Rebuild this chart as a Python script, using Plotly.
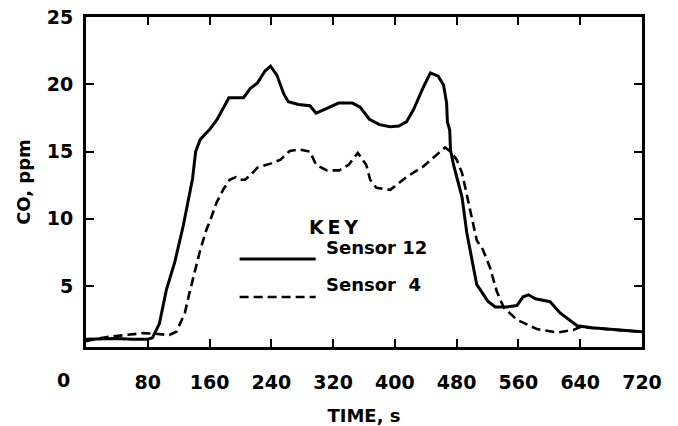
import plotly.graph_objects as go

# CO concentration (ppm) versus time (s) for two sensors
sensor12_t = [0, 20, 40, 60, 80, 86, 95, 104, 115, 126, 132, 138, 142, 148, 161, 170,
              185, 195, 204, 213, 222, 232, 239, 247, 256, 262, 275, 290, 298, 312,
              327, 345, 355, 367, 380, 394, 405, 415, 424, 437, 446, 456, 463, 467,
              468, 471, 472, 476, 481, 487, 493, 500, 506, 512, 520, 530, 545, 558,
              566, 573, 582, 601, 614, 636, 655, 683, 705, 720]
sensor12_co = [1.05, 1.1, 1.1, 1.05, 1.05, 1.15, 2.2, 4.7, 6.8, 9.5, 11.2, 13.0, 15.0,
               15.9, 16.7, 17.4, 19.0, 19.0, 19.0, 19.7, 20.1, 21.0, 21.35, 20.7, 19.3,
               18.7, 18.5, 18.4, 17.85, 18.2, 18.6, 18.6, 18.3, 17.4, 17.0, 16.85, 16.9,
               17.2, 18.1, 19.8, 20.85, 20.6, 19.95, 18.6, 17.2, 16.6, 15.1, 14.0, 13.0,
               11.6, 9.0, 6.8, 5.1, 4.6, 3.9, 3.45, 3.45, 3.55, 4.2, 4.35, 4.05, 3.84,
               3.0, 2.05, 1.9, 1.78, 1.68, 1.6]

sensor4_t = [0, 15, 30, 50, 74, 90, 108, 117, 128, 134, 141, 148, 156, 161, 169, 178,
             186, 194, 200, 206, 214, 222, 239, 252, 264, 277, 290, 298, 312, 328, 340,
             352, 363, 368, 376, 394, 415, 437, 454, 465, 472, 480, 487, 493, 500, 506,
             514, 523, 532, 541, 558, 584, 610, 631, 640, 660, 690, 720]
sensor4_co = [0.9, 1.1, 1.23, 1.35, 1.5, 1.45, 1.36, 1.6, 3.0, 4.5, 6.2, 7.7, 9.2, 9.9,
              11.2, 12.2, 12.9, 13.1, 12.9, 12.9, 13.3, 13.8, 14.1, 14.4, 15.05, 15.15,
              15.0, 14.0, 13.6, 13.6, 14.0, 14.9, 14.0, 12.9, 12.3, 12.15, 13.1, 13.9,
              14.75, 15.3, 15.0, 14.4, 13.4, 11.8, 10.0, 8.4, 7.7, 6.4, 4.6, 3.4, 2.5,
              1.8, 1.55, 1.73, 1.95, 1.85, 1.75, 1.6]

x_ticks = [80, 160, 240, 320, 400, 480, 560, 640, 720]
y_ticks = [5, 10, 15, 20, 25]

FONT = "DejaVu Sans"
INK = "black"

fig = go.Figure()
fig.add_trace(go.Scatter(x=sensor12_t, y=sensor12_co, mode="lines",
                         line=dict(color=INK, width=3), name="Sensor 12"))
fig.add_trace(go.Scatter(x=sensor4_t, y=sensor4_co, mode="lines",
                         line=dict(color=INK, width=2.6, dash="9px,5px"), name="Sensor 4"))

axis_common = dict(showline=True, linecolor=INK, linewidth=3, mirror="ticks",
                   ticks="inside", ticklen=8, tickwidth=2, tickcolor=INK,
                   showgrid=False, zeroline=False, automargin=False,
                   tickfont=dict(family=FONT, size=19, color=INK, weight="bold"))

fig.update_xaxes(range=[0, 720], tickvals=x_ticks, ticklabelstandoff=16,
                 title=dict(text="TIME, s", standoff=23,
                            font=dict(family=FONT, size=18, color=INK, weight="bold")),
                 **axis_common)
fig.update_yaxes(range=[0.47, 25], tickvals=y_ticks, ticklabelstandoff=6,
                 title=dict(text="CO, ppm", standoff=12,
                            font=dict(family=FONT, size=18, color=INK, weight="bold")),
                 **axis_common)

# x-axis origin label sits left of the corner
fig.add_annotation(x=0, y=0, xref="x", yref="paper", text="0", showarrow=False,
                   xanchor="center", yanchor="middle", xshift=-23, yshift=-33,
                   font=dict(family=FONT, size=19, color=INK, weight="bold"))

# key box drawn inside the plotting area
key_font = dict(family=FONT, size=18, color=INK, weight="bold")
fig.add_annotation(x=0.446, y=0.364, xref="paper", yref="paper", text="K\u2009E\u2009Y",
                   showarrow=False, font=dict(family=FONT, size=19, color=INK, weight="bold"))
fig.add_shape(type="line", xref="paper", yref="paper", x0=0.2763, x1=0.4131,
              y0=0.2667, y1=0.2667, line=dict(color=INK, width=3))
fig.add_shape(type="line", xref="paper", yref="paper", x0=0.2763, x1=0.4131,
              y0=0.1515, y1=0.1515, line=dict(color=INK, width=2.6, dash="9px,5px"))
fig.add_annotation(x=0.428, y=0.2636, xref="paper", yref="paper", text="Sensor 12",
                   showarrow=False, xanchor="left", font=key_font)
fig.add_annotation(x=0.428, y=0.1515, xref="paper", yref="paper", text="Sensor\u00a0\u00a04",
                   showarrow=False, xanchor="left", font=key_font)

fig.update_layout(width=678, height=426, margin=dict(l=86, r=36, t=17, b=79),
                  plot_bgcolor="white", paper_bgcolor="white", showlegend=False)

fig.write_html("out.html")
